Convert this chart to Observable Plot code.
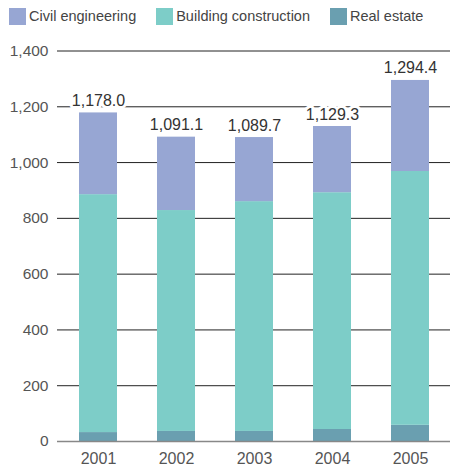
<!DOCTYPE html>
<html>
<head>
<meta charset="utf-8">
<script src="https://cdn.jsdelivr.net/npm/d3@7"></script>
<script src="https://cdn.jsdelivr.net/npm/@observablehq/plot@0.6"></script>
<style>
  html, body { margin: 0; padding: 0; background: #fff; }
  body { width: 450px; height: 473px; overflow: hidden; font-family: "Liberation Sans", Arial, sans-serif; }
  #legend { height: 32px; display: flex; align-items: center; padding-left: 9px; box-sizing: border-box; }
  .item { display: flex; align-items: center; margin-right: 20px; font-size: 14.5px; color: #444; }
  .sw { width: 17px; height: 17px; margin-right: 3px; }
</style>
</head>
<body>
<div id="legend"></div>
<div id="chart"></div>
<script>
const years = ["2001", "2002", "2003", "2004", "2005"];
const seriesNames = ["Civil engineering", "Building construction", "Real estate"];
const seriesColors = ["#97a6d3", "#7dcdc8", "#6a9fb0"];
const realEstate = [32, 36, 36, 43, 58];
const building = [853, 792, 824, 849, 910];
const totals = [1178.0, 1091.1, 1089.7, 1129.3, 1294.4];
const civil = totals.map((t, i) => +(t - building[i] - realEstate[i]).toFixed(1));
const yTicks = [0, 200, 400, 600, 800, 1000, 1200, 1400];

// legend
const legend = document.getElementById("legend");
seriesNames.forEach((n, i) => {
  const it = document.createElement("div");
  it.className = "item";
  const sw = document.createElement("div");
  sw.className = "sw";
  sw.style.background = seriesColors[i];
  const tx = document.createElement("span");
  tx.textContent = n;
  it.appendChild(sw); it.appendChild(tx);
  legend.appendChild(it);
});

const data = [];
years.forEach((y, i) => {
  data.push({year: y, series: "Real estate", value: realEstate[i], order: 0});
  data.push({year: y, series: "Building construction", value: building[i], order: 1});
  data.push({year: y, series: "Civil engineering", value: civil[i], order: 2});
});
const totalData = years.map((y, i) => ({year: y, total: totals[i]}));

const chart = Plot.plot({
  width: 450,
  height: 441,
  marginTop: 18.5,
  marginBottom: 32,
  marginLeft: 57,
  marginRight: 0,
  style: {fontFamily: "'Liberation Sans', Arial, sans-serif", background: "white"},
  x: {domain: years, paddingInner: 0.517, paddingOuter: 0.2585, label: null, tickSize: 0, tickPadding: 11},
  y: {domain: [0, 1400], label: null, ticks: yTicks, tickSize: 0, tickPadding: 9,
      tickFormat: d3.format(",")},
  color: {domain: seriesNames, range: seriesColors},
  marks: [
    Plot.ruleY(yTicks.filter(d => d > 0), {stroke: "#222", strokeWidth: 1}),
    Plot.barY(data, Plot.stackY({
      x: "year", y: "value", fill: "series", order: "order"
    })),
    Plot.ruleY([0], {stroke: "#888", strokeWidth: 1.5}),
    Plot.text(totalData, {
      x: "year", y: "total", text: d => d3.format(",.1f")(d.total),
      dy: -7, lineAnchor: "bottom", fontSize: 16, fill: "#333",
      stroke: "white", strokeWidth: 6
    })
  ]
});
chart.querySelectorAll('g[aria-label="y-axis tick label"]').forEach(g => {
  g.setAttribute("font-size", "15.5");
  g.setAttribute("fill", "#555");
});
chart.querySelectorAll('g[aria-label="x-axis tick label"]').forEach(g => {
  g.setAttribute("font-size", "16");
  g.setAttribute("fill", "#555");
});
document.getElementById("chart").appendChild(chart);
</script>
</body>
</html>
